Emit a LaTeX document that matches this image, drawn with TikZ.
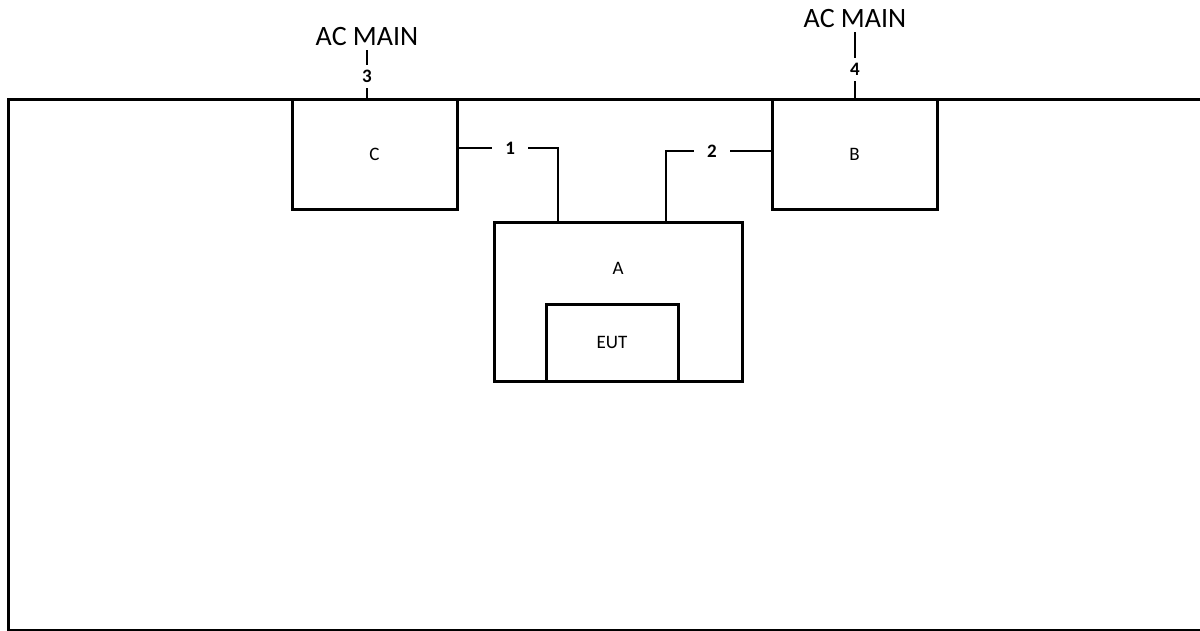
\documentclass[tikz,border=0pt]{standalone}
\usepackage{fontspec}
\setmainfont{Carlito}
\usetikzlibrary{positioning}
\tikzset{
  wall/.style={line width=3pt, line join=miter},
  unitbox/.style={draw, line width=3pt, minimum width=165pt, minimum height=110pt,
    inner sep=0pt, font=\fontsize{19}{22}\selectfont},
  cable/.style={line width=2pt},
  portlabel/.style={fill=white, inner xsep=13pt, inner ysep=6pt,
    font=\fontsize{19}{22}\selectfont\bfseries},
  mainlabel/.style={inner sep=4pt, font=\fontsize{28}{32}\selectfont},
}

\begin{document}
\begin{tikzpicture}[x=1pt, y=-1pt]
  \useasboundingbox (0,0) rectangle (1200,630);
  \clip (0,0) rectangle (1200,630);
  % Shielded room
  \draw[wall] (8.5,99.5) rectangle (1215,630.5);
  % Boxes
  \node[unitbox] (c) at (374.5,154) {C};
  \node[unitbox] (b) at (854.5,154) {B};
  \node[unitbox, minimum width=248pt, minimum height=159pt] (a) at (618,301.5) {};
  \node[font=\fontsize{19}{22}\selectfont] (alabel) at (618,268) {A};
  \node[unitbox, minimum width=132pt, minimum height=77pt] (eut) at (612,342.5) {EUT};
  % AC mains
  \node[mainlabel] (main3) at (367,37) {AC MAIN};
  \node[mainlabel] (main4) at (855,19) {AC MAIN};
  % Cables
  \draw[cable] ([yshift=6pt]c.east) -| ([xshift=-60pt]a.north)
    node[pos=0.26, portlabel] {1};
  \draw[cable] ([yshift=3pt]b.west) -| ([xshift=48pt]a.north)
    node[pos=0.28, portlabel] {2};
  \draw[cable] (main3.south) -- (main3.south |- c.north)
    node[pos=0.55, portlabel, inner ysep=5pt] {3};
  \draw[cable] (main4.south) -- (main4.south |- b.north)
    node[pos=0.57, portlabel, inner ysep=5pt] {4};
\end{tikzpicture}
\end{document}
